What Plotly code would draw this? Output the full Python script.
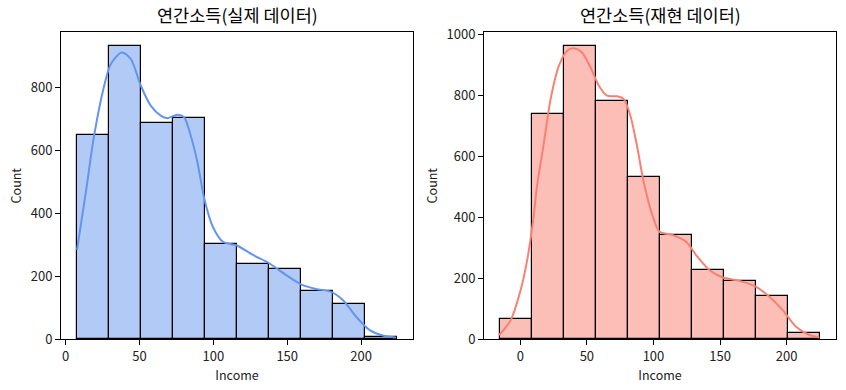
import plotly.graph_objects as go

# ---- data ----
real_counts = [648, 933, 688, 705, 302, 238, 225, 153, 111, 8]
real_min, real_max = 7.7, 224.3
real_kde_x = [7.7, 13.7, 19.3, 26.1, 30.6, 38.0, 44.1, 50.9, 57.6, 64.4, 68.9, 75.7, 80.2, 84.7,
              89.2, 94.1, 99.7, 106.5, 115.5, 126.8, 138.0, 149.3, 160.5, 169.6, 179.7, 187.6,
              196.6, 205.6, 214.6, 223.6]
real_kde_y = [284, 468, 648, 806, 875, 912, 891, 806, 743, 711, 703, 714, 706, 647,
              563, 442, 357, 310, 299, 268, 241, 204, 172, 160, 151, 125,
              72, 30, 12, 6]

synth_counts = [66, 741, 964, 784, 534, 344, 226, 190, 141, 20]
synth_min, synth_max = -15.2, 225.0
synth_kde_x = [-15.9, -7.2, 0.3, 5.2, 9.7, 12.5, 17.8, 22.8, 29.0, 35.2, 40.2, 46.4, 52.7, 59.0,
               65.2, 72.7, 77.7, 82.7, 87.6, 92.7, 99.6, 104.6, 114.6, 124.6, 132.1, 142.1,
               152.1, 164.6, 177.1, 187.0, 197.0, 207.0, 217.0, 224.5]
synth_kde_y = [14, 63, 162, 260, 391, 500, 647, 789, 898, 948, 956, 942, 893, 833,
               800, 798, 789, 734, 636, 516, 402, 353, 342, 320, 276, 227,
               203, 192, 172, 140, 96, 41, 14, 6]

titles = ["연간소득(실제 데이터)", "연간소득(재현 데이터)"]
x_ticks = [0, 50, 100, 150, 200]
real_y_ticks = [0, 200, 400, 600, 800]
synth_y_ticks = [0, 200, 400, 600, 800, 1000]

FONT = "Noto Sans CJK KR, Malgun Gothic, sans-serif"

fig = go.Figure()


def add_panel(counts, vmin, vmax, kx, ky, fill, line, xa, ya):
    w = (vmax - vmin) / len(counts)
    centers = [vmin + w * (i + 0.5) for i in range(len(counts))]
    fig.add_trace(go.Bar(x=centers, y=counts, width=w, xaxis=xa, yaxis=ya,
                         marker=dict(color=fill, line=dict(color="black", width=1.2)),
                         showlegend=False, hoverinfo="x+y"))
    fig.add_trace(go.Scatter(x=kx, y=ky, mode="lines", xaxis=xa, yaxis=ya,
                             line=dict(color=line, width=2, shape="spline", smoothing=0.8),
                             showlegend=False))
    pad = (vmax - vmin) * 0.05
    return [vmin - pad, vmax + pad], [0, max(counts) * 1.047]


xr1, yr1 = add_panel(real_counts, real_min, real_max, real_kde_x, real_kde_y,
                     "rgba(100,149,237,0.5)", "#6495ED", "x", "y")
xr2, yr2 = add_panel(synth_counts, synth_min, synth_max, synth_kde_x, synth_kde_y,
                     "rgba(250,128,114,0.5)", "#FA8072", "x2", "y2")

W, H = 846, 390
ax_common = dict(showline=True, linecolor="black", linewidth=1, mirror=True,
                 ticks="outside", ticklen=5, tickcolor="black", tickwidth=1,
                 showgrid=False, zeroline=False, automargin=False,
                 tickfont=dict(family=FONT, size=13, color="#222"))
ydom = [1 - 339.3 / H, 1 - 32 / H]
fig.update_layout(
    width=W, height=H, margin=dict(l=0, r=0, t=0, b=0),
    paper_bgcolor="white", plot_bgcolor="white", bargap=0,
    font=dict(family=FONT, color="#222"),
    xaxis=dict(domain=[61 / W, 413 / W], range=xr1, tickvals=x_ticks, anchor="y",
               title=dict(text="Income", font=dict(size=12.5), standoff=6), **ax_common),
    yaxis=dict(domain=ydom, range=yr1, tickvals=real_y_ticks, anchor="x",
               title=dict(text="Count", font=dict(size=12.5), standoff=6), **ax_common),
    xaxis2=dict(domain=[484 / W, 836 / W], range=xr2, tickvals=x_ticks, anchor="y2",
                title=dict(text="Income", font=dict(size=12.5), standoff=6), **ax_common),
    yaxis2=dict(domain=ydom, range=yr2, tickvals=synth_y_ticks, anchor="x2",
                title=dict(text="Count", font=dict(size=12.5), standoff=6), **ax_common),
    annotations=[
        dict(text=titles[0], x=(61 + 413) / 2 / W, y=1 - 15 / H, xref="paper", yref="paper",
             showarrow=False, font=dict(size=17.5, family=FONT, color="black"),
             xanchor="center", yanchor="middle"),
        dict(text=titles[1], x=(484 + 836) / 2 / W, y=1 - 15 / H, xref="paper", yref="paper",
             showarrow=False, font=dict(size=17.5, family=FONT, color="black"),
             xanchor="center", yanchor="middle"),
    ],
)

fig.write_html("out.html", config={"displayModeBar": False},
               post_script="document.body.style.margin='0px';document.body.style.overflow='hidden';")
